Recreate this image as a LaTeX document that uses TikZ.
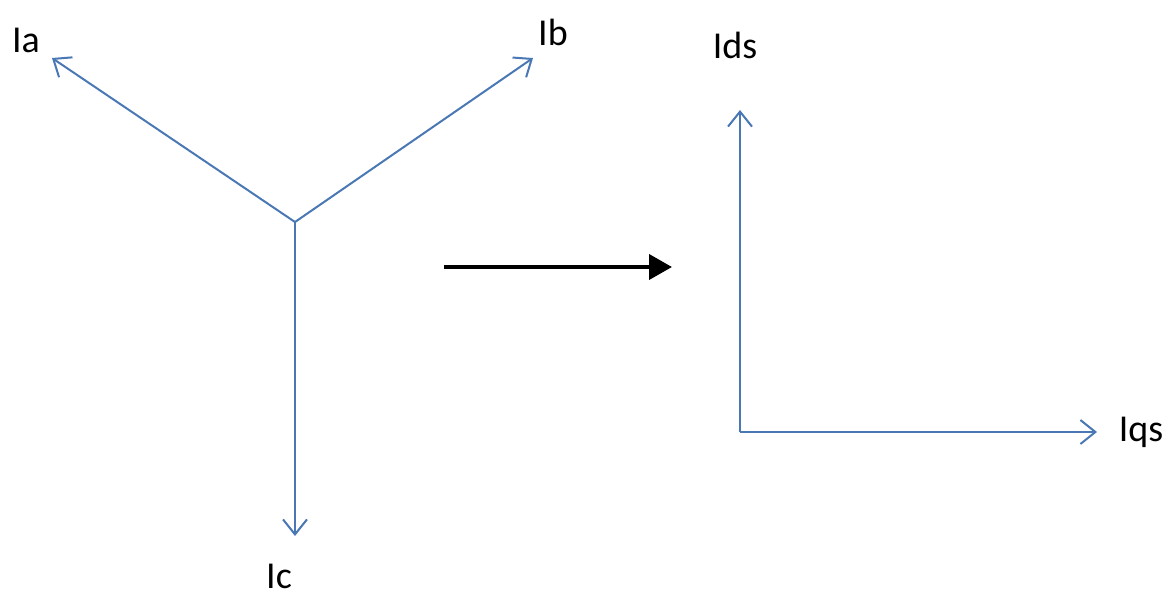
\documentclass[tikz,border=0pt]{standalone}
\usepackage{fontspec}
\setmainfont{Carlito}
\usetikzlibrary{arrows.meta}
\definecolor{vecblue}{RGB}{74,120,180}
\tikzset{
  vec/.style={draw=vecblue, line width=2pt, -{Straight Barb[length=15pt,width=24pt,line width=2pt]}},
  lbl/.style={font=\fontsize{38}{40}\selectfont, text=black, inner sep=0pt},
  bigarrow/.style={draw=black, line width=4pt, -{Triangle[length=23pt,width=25pt]}}
}
\begin{document}
\begin{tikzpicture}[x=1pt,y=-1pt]
\useasboundingbox (0,0) rectangle (1173,598);
\coordinate (O) at (295,222);
\coordinate (A) at (52,58);
\coordinate (B) at (533,58);
\coordinate (C) at (295,536);
\draw[vec] (O) -- (A);
\draw[vec] (O) -- (B);
\draw[vec] (O) -- (C);
\node[lbl] (la) at (26,40) {Ia};
\node[lbl] (lb) at (553,32) {Ib};
\node[lbl] (lc) at (279,576) {Ic};
\coordinate (S) at (444,267);
\coordinate (E) at (672,267);
\draw[bigarrow] (S) -- (E);
\coordinate (Q) at (740,432);
\coordinate (D) at (740,110);
\coordinate (R) at (1097,432);
\draw[vec] (Q) -- (D);
\draw[vec] (Q) -- (R);
\node[lbl] (ld) at (735,45) {Ids};
\node[lbl] (lq) at (1141,432) {Iqs};
\end{tikzpicture}
\end{document}
